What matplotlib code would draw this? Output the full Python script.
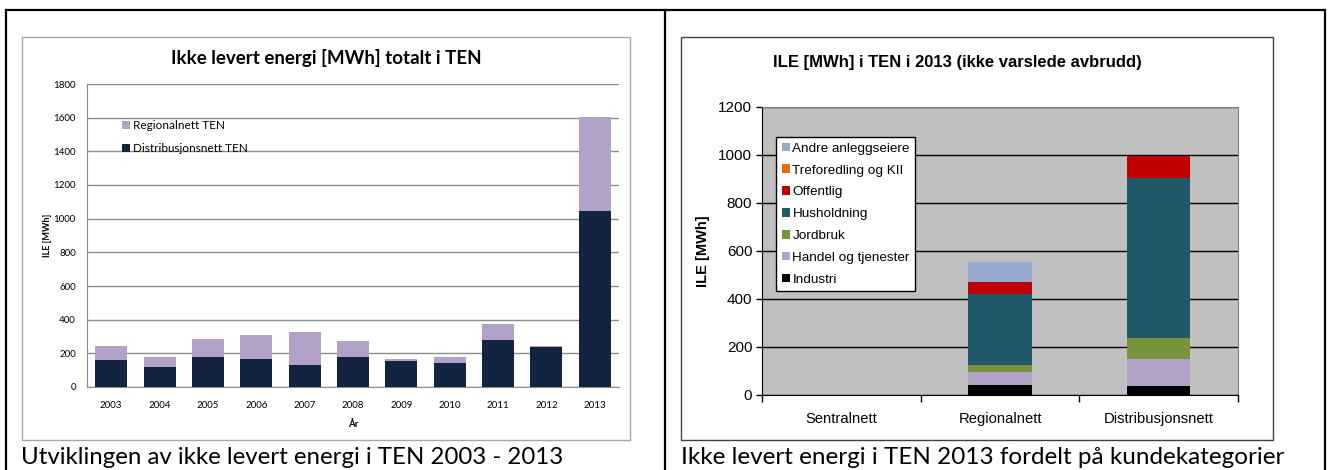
import numpy as np
import matplotlib
matplotlib.use('Agg')
import matplotlib.pyplot as plt
from matplotlib.patches import Rectangle
from matplotlib.lines import Line2D

# Data - left chart (ILE per year, MWh)
years = ['2003', '2004', '2005', '2006', '2007', '2008', '2009', '2010', '2011', '2012', '2013']
distribusjonsnett = [162, 119, 180, 168, 128, 180, 154, 140, 281, 239, 1048]
regionalnett = [83, 61, 107, 141, 199, 95, 12, 40, 93, 6, 556]

# Data - right chart (ILE 2013 per customer category, MWh)
nett = ['Sentralnett', 'Regionalnett', 'Distribusjonsnett']
industri = [0, 40, 36]
handel = [0, 57, 114]
jordbruk = [0, 27, 88]
husholdning = [0, 297, 666]
offentlig = [0, 50, 90]
treforedling = [0, 0, 0]
andre = [0, 82, 0]

W, H = 1331, 470
LEFT_FONT = 'Lato'
RIGHT_FONT = 'Liberation Sans'


def box(x0, y0, x1, y1):
    # pixel box (from top-left) -> figure fraction rect
    return [x0 / W, 1 - y1 / H, (x1 - x0) / W, (y1 - y0) / H]


fig = plt.figure(figsize=(W / 100, H / 100), dpi=100)

# Outer table frame
for xs, ys in [([6, 1325], [10, 10]), ([6, 6], [10, 470]), ([665, 665], [10, 470]), ([1325, 1325], [10, 470])]:
    fig.add_artist(Line2D([x / W for x in xs], [1 - y / H for y in ys], color='black', lw=1.6))

# Chart boxes
fig.add_artist(Rectangle((22 / W, 1 - 440 / H), 608 / W, 403 / H, facecolor='white',
                         edgecolor='#A6A6A6', lw=1.0, zorder=0))
fig.add_artist(Rectangle((681 / W, 1 - 440 / H), 592 / W, 403 / H, facecolor='white',
                         edgecolor='#404040', lw=1.0, zorder=0))

# ---------------- Left chart ----------------
ax1 = fig.add_axes(box(87, 84, 619, 387))
x = np.arange(len(years))
navy = '#12243F'
lilla = '#B3A2C7'
b_dist = ax1.bar(x, distribusjonsnett, width=0.66, color=navy, zorder=3)
b_reg = ax1.bar(x, regionalnett, width=0.66, bottom=distribusjonsnett, color=lilla, zorder=3)
ax1.set_xlim(-0.5, len(years) - 0.5)
ax1.set_ylim(0, 1800)
ax1.set_yticks(range(0, 1801, 200))
ax1.set_xticks(x)
ax1.set_xticklabels(years, fontsize=7, family=LEFT_FONT)
for lbl in ax1.get_yticklabels():
    lbl.set_fontsize(7)
    lbl.set_family(LEFT_FONT)
ax1.tick_params(length=0, pad=8)
ax1.tick_params(axis='x', pad=10)
ax1.grid(axis='y', color='#8C8C8C', lw=1.0, zorder=0)
ax1.set_axisbelow(True)
for s in ['top', 'right']:
    ax1.spines[s].set_visible(False)
ax1.spines['left'].set_color('#8C8C8C')
ax1.spines['bottom'].set_color('#8C8C8C')
ax1.set_ylabel('ILE [MWh]', fontsize=6.5, fontweight='bold', family=LEFT_FONT, labelpad=1)
ax1.set_xlabel('År', fontsize=7, fontweight='bold', family=LEFT_FONT, labelpad=7)
fig.text(326 / W, 1 - 58 / H, 'Ikke levert energi [MWh] totalt i TEN', ha='center', va='center',
         fontsize=13.5, fontweight='bold', family=LEFT_FONT)
ax1.legend([b_reg, b_dist], ['Regionalnett TEN', 'Distribusjonsnett TEN'], loc='upper left',
           bbox_to_anchor=(0.045, 0.915), frameon=False, handlelength=0.7, handleheight=0.7,
           handletextpad=0.3, labelspacing=1.0, prop={'family': LEFT_FONT, 'size': 8.5})

fig.text(21 / W, 1 - 457 / H, 'Utviklingen av ikke levert energi i TEN 2003 - 2013', ha='left',
         va='center', fontsize=17.3, family=LEFT_FONT)

# ---------------- Right chart ----------------
ax2 = fig.add_axes(box(762, 107, 1238, 395))
ax2.set_facecolor('#C0C0C0')
xr = np.arange(len(nett))
series = [
    ('Industri', industri, '#000000'),
    ('Handel og tjenester', handel, '#B3A2C7'),
    ('Jordbruk', jordbruk, '#77933C'),
    ('Husholdning', husholdning, '#215968'),
    ('Offentlig', offentlig, '#C00000'),
    ('Treforedling og KII', treforedling, '#E46C0A'),
    ('Andre anleggseiere', andre, '#95A9D1'),
]
bottom = np.zeros(len(nett))
handles = []
for name, vals, col in series:
    h = ax2.bar(xr, vals, width=0.4, bottom=bottom, color=col, label=name, zorder=3)
    handles.append(h)
    bottom += np.array(vals)
ax2.set_xlim(-0.5, len(nett) - 0.5)
ax2.set_ylim(0, 1200)
ax2.set_yticks(range(0, 1201, 200))
ax2.grid(axis='y', color='black', lw=1.0, zorder=1)
ax2.set_axisbelow(True)
ax2.set_xticks(np.arange(-0.5, len(nett), 1.0))
ax2.set_xticklabels([])
ax2.set_xticks(xr, minor=True)
ax2.set_xticklabels(nett, minor=True, fontsize=10.6, family=RIGHT_FONT)
ax2.tick_params(axis='x', which='minor', length=0, pad=12)
ax2.tick_params(axis='x', which='major', length=5, width=1, color='black', direction='out')
ax2.tick_params(axis='y', length=4, width=1, color='black', direction='out', pad=3)
for lbl in ax2.get_yticklabels():
    lbl.set_fontsize(11)
    lbl.set_family(RIGHT_FONT)
ax2.spines['left'].set_color('black')
ax2.spines['bottom'].set_color('black')
ax2.spines['top'].set_color('#808080')
ax2.spines['right'].set_color('#808080')
ax2.set_ylabel('ILE [MWh]', fontsize=10.5, fontweight='bold', family=RIGHT_FONT, labelpad=6)
fig.text(957 / W, 1 - 62 / H, 'ILE [MWh] i TEN i 2013 (ikke varslede avbrudd)', ha='center',
         va='center', fontsize=12, fontweight='bold', family=RIGHT_FONT)
leg = ax2.legend(handles[::-1], [s[0] for s in series[::-1]], loc='upper left',
                 bbox_to_anchor=(0.03, 0.895), frameon=True, fancybox=False, framealpha=1,
                 edgecolor='black', handlelength=0.6, handleheight=0.6, handletextpad=0.2,
                 labelspacing=0.73, borderpad=0.4, borderaxespad=0,
                 prop={'family': RIGHT_FONT, 'size': 9.7})
leg.get_frame().set_linewidth(1.0)

fig.text(681 / W, 1 - 457 / H, 'Ikke levert energi i TEN 2013 fordelt på kundekategorier', ha='left',
         va='center', fontsize=17.5, family=LEFT_FONT)

fig.savefig('out.png', dpi=100)
